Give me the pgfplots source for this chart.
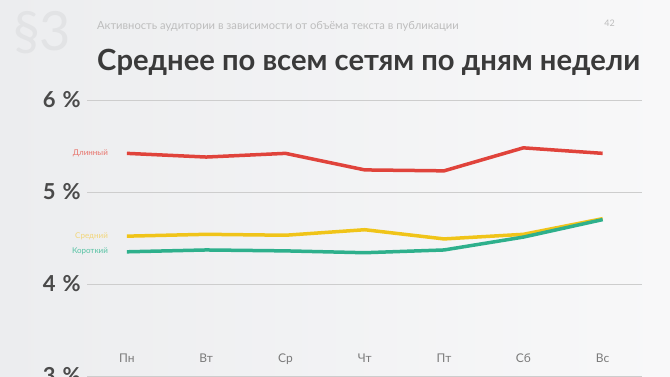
\documentclass[border=0pt]{standalone}
\usepackage{pgfplots}
\pgfplotsset{compat=1.18}
\usepackage{fontspec}
\setmainfont{Lato}
\definecolor{cRed}{HTML}{E0433B}
\definecolor{cYel}{HTML}{F0C419}
\definecolor{cGrn}{HTML}{2EB08C}
\definecolor{lRed}{HTML}{E8736B}
\definecolor{lYel}{HTML}{F2D67A}
\definecolor{lGrn}{HTML}{55C2A3}
\definecolor{bgL}{HTML}{ECEDEF}
\definecolor{bgR}{HTML}{F8F8F9}
\definecolor{secL}{HTML}{E2E3E5}
\definecolor{subC}{HTML}{BDBDBD}
\definecolor{titC}{HTML}{3A3A3A}
\definecolor{tickC}{HTML}{4A4A4A}
\definecolor{dayC}{HTML}{7A7A7A}
\definecolor{gridC}{HTML}{CDCDCD}
\begin{document}
\begin{tikzpicture}
\useasboundingbox (0,0) rectangle (670pt,376pt);
\clip (0,0) rectangle (670pt,376pt);
\shade[left color=bgL, right color=bgR] (0,0) rectangle (670pt,376pt);
\node[anchor=base west, inner sep=0, text=secL, font=\fontsize{54}{54}\selectfont] at (13pt,326pt) {§3};
\node[anchor=base west, inner sep=0, text=subC, font=\fontsize{11.2}{11.2}\selectfont] at (97pt,347pt) {Активность аудитории в зависимости от объёма текста в публикации};
\node[anchor=base east, inner sep=0, text=subC, font=\fontsize{9}{9}\selectfont] at (615pt,350pt) {42};
\node[anchor=base west, inner sep=0, text=titC, font=\fontsize{29.2}{29.2}\bfseries] at (97pt,306pt) {Среднее по всем сетям по дням недели};
\begin{axis}[
  at={(87.3pt,0pt)}, anchor=south west,
  scale only axis, width=555pt, height=276pt,
  xmin=-0.5, xmax=6.5, ymin=3, ymax=6,
  clip=false,
  axis line style={draw=none},
  major tick length=0pt,
  ymajorgrids, grid style={gridC, line width=0.8pt},
  xtick={0,...,6},
  xticklabels={Пн,Вт,Ср,Чт,Пт,Сб,Вс},
  xticklabel style={font=\fontsize{12}{12}\selectfont, text=dayC, anchor=base, yshift=14pt},
  ytick={3,4,5,6},
  yticklabels={3\hspace{7pt}\%,4\hspace{7pt}\%,5\hspace{7pt}\%,6\hspace{7pt}\%},
  yticklabel style={font=\fontsize{22}{22}\bfseries, text=tickC, anchor=east, xshift=-3pt},
]
\addplot[cRed, line width=3.5pt] coordinates {(0,5.42) (1,5.38) (2,5.42) (3,5.24) (4,5.23) (5,5.48) (6,5.42)}
  node[pos=0, anchor=east, xshift=-14pt, font=\fontsize{8}{8}\selectfont, text=lRed] {Длинный};
\addplot[cYel, line width=3.5pt] coordinates {(0,4.52) (1,4.54) (2,4.53) (3,4.59) (4,4.49) (5,4.54) (6,4.71)}
  node[pos=0, anchor=east, xshift=-14pt, font=\fontsize{8}{8}\selectfont, text=lYel] {Средний};
\addplot[cGrn, line width=3.5pt] coordinates {(0,4.35) (1,4.37) (2,4.36) (3,4.34) (4,4.37) (5,4.51) (6,4.70)}
  node[pos=0, anchor=east, xshift=-14pt, font=\fontsize{8}{8}\selectfont, text=lGrn] {Короткий};
\end{axis}
\end{tikzpicture}
\end{document}
